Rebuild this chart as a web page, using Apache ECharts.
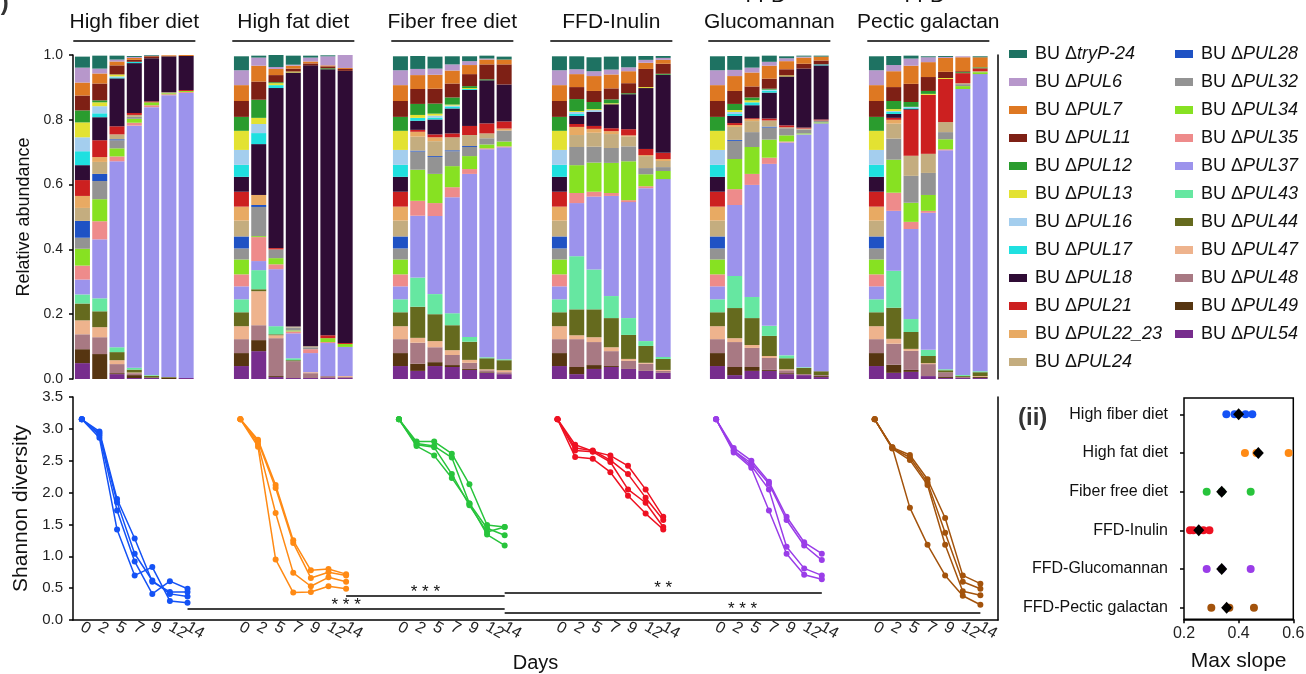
<!DOCTYPE html>
<html>
<head>
<meta charset="utf-8">
<script src="https://cdn.jsdelivr.net/npm/echarts@6.0.0/dist/echarts.min.js"></script>
<style>
  html, body { margin: 0; padding: 0; background: #fff; }
  #main { width: 1306px; height: 674px; }
</style>
</head>
<body>
<div id="main"></div>
<script>
// strains, top of each stacked bar first (same order as the legend)
var species = ['tryP-24', 'PUL6', 'PUL7', 'PUL11', 'PUL12', 'PUL13', 'PUL16', 'PUL17', 'PUL18', 'PUL21', 'PUL22_23', 'PUL24',
  'PUL28', 'PUL32', 'PUL34', 'PUL35', 'PUL37', 'PUL43', 'PUL44', 'PUL47', 'PUL48', 'PUL49', 'PUL54'];
var speciesColors = ['#1e7262', '#b797cb', '#de7822', '#7e2015', '#2a9c2e', '#e3e232', '#a4ceee', '#1fe0e0', '#2f0c35', '#cc2020', '#e8aa63', '#c4ad7f',
  '#1f52c4', '#939393', '#87e122', '#ee8b8b', '#9c93ec', '#66e7a1', '#656a1e', '#eeb38d', '#a87983', '#563511', '#772d8d'];

var dietNames = ['High fiber diet', 'High fat diet', 'Fiber free diet', 'FFD-Inulin', 'FFD-Glucomannan', 'FFD-Pectic galactan'];
var panelTitles = ['High fiber diet', 'High fat diet', 'Fiber free diet', 'FFD-Inulin', 'FFD-\nGlucomannan', 'FFD-\nPectic galactan'];
var dayLabels = ['0', '2', '5', '7', '9', '12', '14'];
var dietColors = ['#1452f5', '#ff8a14', '#28c43c', '#ee1122', '#9a3de8', '#a3530c'];

// relative abundance, one row per day (0,2,5,7,9,12,14), values in species order
var highFiberBars = [
  [.034,.046,.040,.046,.037,.046,.043,.043,.046,.049,.037,.040,.052,.034,.052,.043,.046,.028,.052,.043,.046,.043,.049],
  [.040,.015,.031,.052,.006,.012,.022,.012,.071,.052,.015,.037,.022,.056,.068,.056,.182,.040,.049,.031,.052,.077,0],
  [.012,.006,.012,.028,0,.006,.003,.003,.148,.025,0,.015,.003,.025,.025,.015,.574,.015,.025,.012,.028,.003,.015],
  [.003,.003,.006,.006,0,0,0,.004,.154,.006,0,.006,0,.006,.012,.009,.747,.006,.009,.002,.006,.009,.003],
  [.003,.001,.001,.006,0,0,0,0,.133,.003,0,0,0,0,.009,.006,.827,.002,.006,0,0,0,.004],
  [0,0,.003,0,0,0,0,0,.111,0,0,.003,0,0,.003,.003,.870,0,.002,0,0,.004,0],
  [0,0,.003,0,0,0,0,0,.105,.003,0,0,0,0,.003,.003,.880,0,0,0,0,0,.003]
];
var highFatBars = [
  [.043,.046,.049,.049,.043,.059,.046,.037,.046,.046,.043,.049,.037,.034,.046,.037,.040,.040,.043,.040,.043,.040,.040],
  [.006,.025,.049,.056,.056,.019,.028,.034,.157,0,.031,0,.006,.090,.003,.074,.028,.059,.006,.105,.046,.034,.086],
  [.037,.006,.019,.022,.003,.006,0,.009,.494,.004,0,0,0,.027,.019,.015,.176,.025,.003,.009,.117,.003,.006],
  [.028,.003,.009,.009,0,.003,0,0,.784,0,0,.003,0,.009,.003,.006,.077,.006,.003,0,.052,0,.003],
  [.006,.012,.006,.006,0,0,0,0,.867,0,0,.003,0,.006,0,.012,.059,0,0,.003,.015,0,.003],
  [.003,.028,.003,.006,.003,0,0,0,.821,.009,0,0,0,0,.012,.003,.102,0,0,0,.006,0,.003],
  [0,.040,.003,.006,0,0,0,0,.840,.003,0,0,0,0,.009,0,.090,0,0,.003,.003,0,.003]
];
var fiberFreeBars = [
  [.043,.046,.049,.049,.043,.059,.046,.037,.046,.046,.043,.049,.037,.034,.046,.037,.040,.040,.043,.040,.043,.040,.040],
  [.040,.019,.043,.046,.034,.009,0,.009,.028,.006,.015,.043,.003,.056,.096,.046,.191,.090,.096,.015,.065,.022,.025],
  [.037,.019,.043,.046,.031,.006,.006,.006,.046,.009,.012,.046,.003,.052,.090,.040,.241,.062,.083,.019,.046,.012,.040],
  [.025,.019,.040,.043,.022,.003,.003,.006,.077,.012,0,.040,.003,.046,.065,.031,.358,.037,.077,.015,.031,.006,.037],
  [.015,.012,.028,.037,.006,.003,0,.003,.111,.028,0,.034,.003,.028,.040,.015,.503,.015,.056,.009,.019,.003,.028],
  [.009,.003,.015,.046,.003,0,0,0,.133,.031,0,.015,0,.019,.012,.003,.642,.003,.034,.003,.006,.002,.019],
  [.009,0,.015,.062,0,0,0,0,.114,.022,.006,0,0,.034,.015,.003,.654,.003,.031,.006,.006,0,.015]
];
var inulinBars = [
  [.043,.046,.049,.049,.043,.059,.046,.037,.046,.046,.043,.049,.037,.034,.046,.037,.040,.040,.043,.040,.043,.040,.040],
  [.040,.015,.040,.037,.037,.003,.006,.006,.025,.009,.025,.037,0,.056,.086,.031,.164,.164,.080,.012,.086,.022,.015],
  [.043,.015,.046,.034,.022,.003,.006,0,.043,.009,.012,.043,0,.049,.090,.015,.225,.123,.086,.015,.071,.012,.031],
  [.040,.015,.043,.034,.012,.003,0,0,.074,.009,.009,.043,0,.046,.093,.009,.309,.068,.090,.012,.046,.003,.037],
  [.034,.012,.037,.031,.003,0,0,0,.108,.019,.003,.031,0,.046,.120,.006,.358,.052,.074,.006,.025,0,.031],
  [.012,.009,.019,.056,0,.003,0,0,.188,.019,.003,.037,0,.019,.037,.006,.472,.015,.052,.003,.022,0,.025],
  [.006,.006,.012,.031,.003,0,0,0,.241,.019,.006,.019,0,.012,.025,0,.549,.006,.034,.003,.006,0,.019]
];
var glucomannanBars = [
  [.043,.046,.049,.049,.043,.059,.046,.037,.046,.046,.043,.049,.037,.034,.046,.037,.040,.040,.043,.040,.043,.040,.040],
  [.043,.019,.046,.040,.019,.006,.006,.006,.022,.006,.006,.040,.003,.056,.093,.049,.219,.099,.093,.012,.077,.025,.012],
  [.034,.015,.043,.034,.009,.006,0,.009,.040,.003,.006,.034,0,.046,.083,.034,.346,.065,.083,.009,.059,.012,.025],
  [.019,.012,.040,.031,.003,0,.003,.006,.080,.006,0,.019,.003,.037,.056,.019,.500,.031,.062,.006,.037,.003,.025],
  [.006,.009,.025,.019,0,.003,0,0,.151,.006,0,.003,0,.022,.019,.003,.657,.009,.034,.003,.009,.003,.015],
  [.003,.003,.019,.015,0,0,0,0,.182,.003,0,.003,0,.012,.003,0,.719,.002,.019,0,.003,0,.012],
  [.003,0,.012,.012,0,0,0,.003,.167,.003,0,0,0,.006,.003,0,.765,0,.012,0,.003,.003,.006]
];
var pecticBars = [
  [.043,.046,.049,.049,.043,.059,.046,.037,.046,.046,.043,.049,.037,.034,.046,.037,.040,.040,.043,.040,.043,.040,.040],
  [.028,.019,.049,.043,.025,.006,.003,.006,.012,.006,.012,.046,0,.065,.102,.056,.185,.114,.096,.015,.065,.025,.019],
  [.009,.022,.056,.056,.015,0,.003,.003,.003,.142,0,.062,0,.083,.059,.022,.278,.040,.052,.006,.059,.006,.022],
  [.003,.015,.046,.043,.009,.003,0,0,0,.182,0,.059,0,.068,.049,.006,.423,.019,.022,.003,.037,0,.009],
  [.003,.003,.043,.019,0,.003,0,0,0,.133,0,.031,0,.022,.031,.003,.676,.003,.006,0,.015,.003,.003],
  [0,.003,.043,.003,.003,0,0,0,0,.031,0,.003,0,.006,.009,0,.883,.003,.003,0,.003,0,.003],
  [.003,0,.031,0,.003,0,0,0,0,.009,0,.003,0,0,.006,0,.917,.003,.012,.003,0,.003,.003]
];

// Shannon diversity, 4 replicates per diet, one value per day
var highFiberDiv = [[3.15,2.96,1.90,1.28,0.60,0.44,0.44], [3.15,2.93,1.85,1.04,0.62,0.41,0.37], [3.15,2.90,1.72,0.92,0.41,0.61,0.49], [3.15,2.86,1.42,0.70,0.83,0.30,0.27]];
var highFatDiv = [[3.15,2.83,2.12,1.25,0.78,0.80,0.72], [3.15,2.80,2.07,1.21,0.66,0.75,0.70], [3.15,2.76,1.68,0.74,0.53,0.67,0.60], [3.15,2.72,0.95,0.43,0.44,0.53,0.49]];
var fiberFreeDiv = [[3.15,2.80,2.80,2.61,2.13,1.49,1.46], [3.15,2.77,2.73,2.55,1.83,1.44,1.33], [3.15,2.75,2.71,2.29,1.80,1.38,1.46], [3.15,2.73,2.58,2.23,1.83,1.34,1.17]];
var inulinDiv = [[3.15,2.75,2.65,2.58,2.42,2.05,1.62], [3.15,2.70,2.66,2.51,2.29,1.92,1.57], [3.15,2.66,2.64,2.48,2.05,1.84,1.46], [3.15,2.56,2.53,2.32,1.95,1.67,1.42]];
var glucomannanDiv = [[3.15,2.70,2.50,2.17,1.62,1.22,1.04], [3.15,2.66,2.46,2.14,1.57,1.17,0.94], [3.15,2.66,2.42,2.05,1.15,0.81,0.70], [3.15,2.63,2.39,1.72,1.04,0.71,0.64]];
var pecticDiv = [[3.15,2.71,2.59,2.21,1.60,0.70,0.57], [3.15,2.70,2.55,2.16,1.37,0.60,0.49], [3.15,2.69,2.51,2.12,1.18,0.45,0.39], [3.15,2.71,1.76,1.18,0.70,0.38,0.24]];

// significance brackets (x in day slots, group g starts at g*9)
var sigFrom = [6, 15, 24, 24];
var sigTo = [24, 24, 42, 51];
var sigY = [0.18, 0.38, 0.435, 0.11];
var sigText = ['* * *', '* * *', '* *', '* * *'];

// (ii) max slope per replicate and the mean
var slopeHighFiber = [0.355, 0.385, 0.425, 0.45];
var slopeHighFat = [0.423, 0.465, 0.583];
var slopeFiberFree = [0.283, 0.338, 0.444];
var slopeInulin = [0.222, 0.234, 0.271, 0.293];
var slopeGlucomannan = [0.283, 0.338, 0.444];
var slopePectic = [0.30, 0.366, 0.456];
var slopeMeans = [0.400, 0.472, 0.338, 0.254, 0.338, 0.356];

var font = 'Liberation Sans, Arial, sans-serif';
var chart = echarts.init(document.getElementById('main'));

var panels = [highFiberBars, highFatBars, fiberFreeBars, inulinBars, glucomannanBars, pecticBars];
var panelLeft = [73.8, 232.8, 391.8, 550.8, 708.8, 867.8];

var axisLineStyle = {color: '#000', width: 1.5};

var grids = [{left: 73, right: 308, top: 55, bottom: 295}];
var xAxes = [{gridIndex: 0, type: 'value', min: 0, max: 1, show: false}];
var yAxes = [
  {gridIndex: 0, type: 'value', min: 0, max: 1, interval: 0.2, position: 'left',
    axisLine: {show: true, lineStyle: axisLineStyle},
    axisTick: {show: true, length: 4, lineStyle: axisLineStyle},
    axisLabel: {fontSize: 14, color: '#222', fontFamily: font, margin: 10, formatter: function (v) { return v.toFixed(1); }},
    splitLine: {show: false},
    name: 'Relative abundance', nameLocation: 'middle', nameGap: 38,
    nameTextStyle: {fontSize: 18, color: '#111', fontFamily: font}},
  {gridIndex: 0, type: 'value', min: 0, max: 1, position: 'right',
    axisLine: {show: true, lineStyle: axisLineStyle},
    axisTick: {show: false}, axisLabel: {show: false}, splitLine: {show: false}}
];
var series = [];

panels.forEach(function (bars, p) {
  grids.push({left: panelLeft[p], width: 121, top: 55, bottom: 295});
  xAxes.push({gridIndex: p + 1, type: 'category', data: dayLabels, position: 'top', offset: 14,
    axisLine: {show: true, onZero: false, lineStyle: axisLineStyle},
    axisTick: {show: false}, axisLabel: {show: false},
    name: panelTitles[p], nameLocation: 'middle', nameGap: 6,
    nameTextStyle: {fontSize: 21, color: '#111', fontFamily: font, lineHeight: 26}});
  yAxes.push({gridIndex: p + 1, type: 'value', min: 0, max: 1, show: false});
  for (var s = species.length - 1; s >= 0; s--) {
    series.push({
      name: species[s], type: 'bar', stack: 'diet' + p,
      xAxisIndex: p + 1, yAxisIndex: p + 2,
      barWidth: 15, itemStyle: {color: speciesColors[s]},
      data: bars.map(function (b) { return b[s]; })
    });
  }
});

// bottom diversity plot
grids.push({left: 73, right: 308, top: 397, bottom: 54});
xAxes.push({gridIndex: 7, type: 'value', min: -0.5, max: 52, interval: 0.5,
  axisLine: {show: true, onZero: false, lineStyle: axisLineStyle},
  axisTick: {show: false}, splitLine: {show: false},
  axisLabel: {fontSize: 16, color: '#222', fontFamily: font, rotate: -30, margin: 6, hideOverlap: false,
    formatter: function (v) {
      if (Math.abs(v - Math.round(v)) > 0.01) return '';
      var slot = Math.round(v) % 9;
      return slot < 7 ? dayLabels[slot] : '';
    }},
  name: 'Days', nameLocation: 'middle', nameGap: 33,
  nameTextStyle: {fontSize: 20, color: '#111', fontFamily: font}});
yAxes.push({gridIndex: 7, type: 'value', min: 0, max: 3.5, interval: 0.5, position: 'left',
  axisLine: {show: true, onZero: false, lineStyle: axisLineStyle},
  axisTick: {show: true, length: 4, lineStyle: axisLineStyle},
  axisLabel: {fontSize: 15, color: '#222', fontFamily: font, margin: 10, formatter: function (v) { return v.toFixed(1); }},
  splitLine: {show: false},
  name: 'Shannon diversity', nameLocation: 'middle', nameGap: 36,
  nameTextStyle: {fontSize: 21, color: '#111', fontFamily: font}});
yAxes.push({gridIndex: 7, type: 'value', min: 0, max: 3.5, position: 'right',
  axisLine: {show: true, onZero: false, lineStyle: axisLineStyle},
  axisTick: {show: false}, axisLabel: {show: false}, splitLine: {show: false}});

var diversity = [highFiberDiv, highFatDiv, fiberFreeDiv, inulinDiv, glucomannanDiv, pecticDiv];
diversity.forEach(function (reps, g) {
  reps.forEach(function (rep) {
    series.push({
      type: 'line', xAxisIndex: 7, yAxisIndex: 8,
      symbol: 'circle', symbolSize: 6,
      lineStyle: {color: dietColors[g], width: 1.5},
      itemStyle: {color: dietColors[g]},
      data: rep.map(function (v, i) { return [g * 9 + i, v]; })
    });
  });
});

// brackets
series.push({
  type: 'line', xAxisIndex: 7, yAxisIndex: 8, data: [], silent: true,
  markLine: {
    silent: true, symbol: ['none', 'none'], animation: false,
    lineStyle: {color: '#000', width: 1.5, type: 'solid'},
    label: {show: true, position: 'middle', formatter: '{b}', fontSize: 17, color: '#111', fontFamily: font, distance: -5},
    data: sigFrom.map(function (f, i) {
      return [{name: sigText[i], coord: [f, sigY[i]]}, {coord: [sigTo[i], sigY[i]]}];
    })
  }
});

// (ii) max slope: box grid + dot grid
grids.push({left: 1184, right: 12.7, top: 398, bottom: 54.7, show: true, borderColor: '#000', borderWidth: 1.5, backgroundColor: 'transparent'});
xAxes.push({gridIndex: 8, type: 'value', min: 0.2, max: 0.6, interval: 0.2,
  axisLine: {show: true, onZero: false, lineStyle: axisLineStyle},
  axisTick: {show: true, length: 4, lineStyle: axisLineStyle},
  axisLabel: {fontSize: 16, color: '#222', fontFamily: font, margin: 6, formatter: function (v) { return v.toFixed(1); }},
  splitLine: {show: false},
  name: 'Max slope', nameLocation: 'middle', nameGap: 31,
  nameTextStyle: {fontSize: 21, color: '#111', fontFamily: font}});
yAxes.push({gridIndex: 8, type: 'value', min: 0, max: 1, show: false});

grids.push({left: 1184, right: 12.7, top: 395, bottom: 47});
xAxes.push({gridIndex: 9, type: 'value', min: 0.2, max: 0.6, show: false});
yAxes.push({gridIndex: 9, type: 'category', data: dietNames, inverse: true,
  axisLine: {show: false},
  axisTick: {show: true, length: 4, alignWithLabel: true, lineStyle: axisLineStyle},
  axisLabel: {fontSize: 16, color: '#111', fontFamily: font, margin: 16},
  splitLine: {show: false}});

var slopes = [slopeHighFiber, slopeHighFat, slopeFiberFree, slopeInulin, slopeGlucomannan, slopePectic];
slopes.forEach(function (vals, g) {
  series.push({
    type: 'scatter', xAxisIndex: 9, yAxisIndex: 11, symbolSize: 8,
    itemStyle: {color: dietColors[g], opacity: 1},
    data: vals.map(function (v) { return [v, g]; })
  });
});
series.push({
  type: 'scatter', xAxisIndex: 9, yAxisIndex: 11, symbol: 'diamond', symbolSize: [11, 12],
  itemStyle: {color: '#000', opacity: 1}, z: 5,
  data: slopeMeans.map(function (v, g) { return [v, g]; })
});

grids.forEach(function (g) { g.outerBoundsMode = 'none'; });

var legendBase = {
  orient: 'vertical', icon: 'rect', itemWidth: 18, itemHeight: 8, itemGap: 10,
  selectedMode: false, top: 45, padding: 0,
  formatter: function (name) { return '{n|BU Δ}{i|' + name + '}'; },
  textStyle: {
    fontFamily: font, fontSize: 18, color: '#111', padding: [0, 0, 0, 3],
    rich: {
      n: {fontFamily: font, fontSize: 18, color: '#111', lineHeight: 20},
      i: {fontFamily: font, fontSize: 18, color: '#111', fontStyle: 'italic', lineHeight: 20}
    }
  }
};

var option = {
  animation: false,
  backgroundColor: '#fff',
  textStyle: {fontFamily: font},
  title: [
    {text: '(ii)', left: 1013, top: 401, textStyle: {fontSize: 24, fontWeight: 'bold', color: '#333', fontFamily: font}},
    {text: '(i)', left: -19, top: -14, textStyle: {fontSize: 24, fontWeight: 'bold', color: '#333', fontFamily: font}}
  ],
  legend: [
    Object.assign({}, legendBase, {left: 1009, data: species.slice(0, 12)}),
    Object.assign({}, legendBase, {left: 1175, data: species.slice(12)})
  ],
  grid: grids,
  xAxis: xAxes,
  yAxis: yAxes,
  series: series
};

chart.setOption(option);
</script>
</body>
</html>
